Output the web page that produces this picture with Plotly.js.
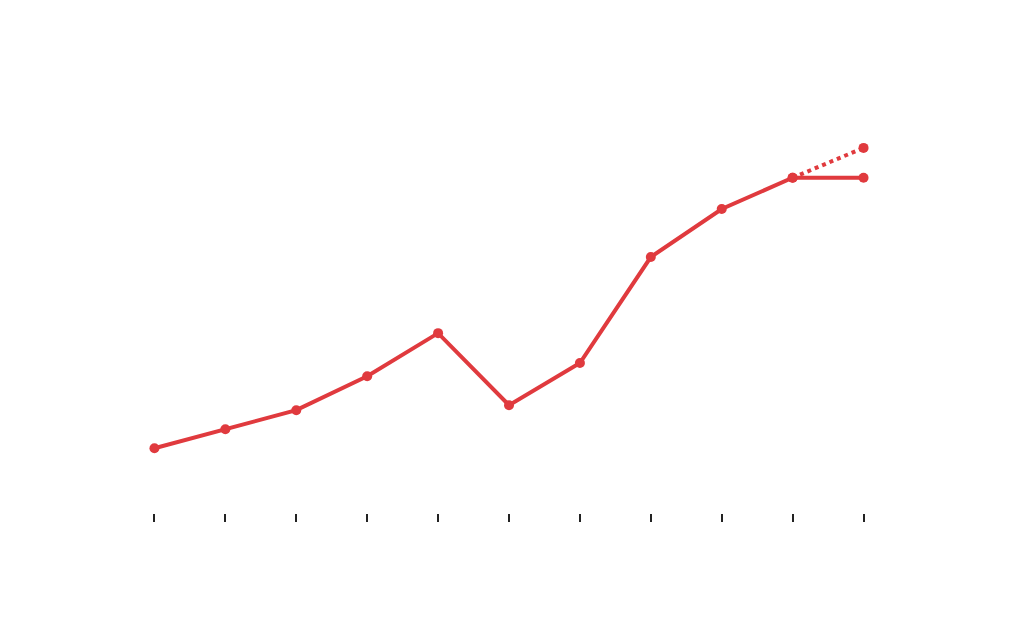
<!DOCTYPE html>
<html>
<head>
<meta charset="utf-8">
<script src="https://cdn.plot.ly/plotly-3.0.1.min.js"></script>
<style>html,body{margin:0;padding:0;background:#fff;}#chart{width:1024px;height:623px;}</style>
</head>
<body>
<div id="chart"></div>
<script>
const periods = [0, 1, 2, 3, 4, 5, 6, 7, 8, 9, 10];
const actualValues = [14.3, 18.5, 22.7, 30.2, 39.7, 23.8, 33.1, 56.5, 67.1, 74.0, 74.0];
const projectedPeriods = [9, 10];
const projectedValues = [74.0, 80.6];
const lineColor = '#e03a3e';

const traces = [
  {
    x: projectedPeriods, y: projectedValues, type: 'scatter', mode: 'lines+markers',
    line: {color: lineColor, width: 4, dash: 'dot'},
    marker: {color: lineColor, size: 10},
    hoverinfo: 'skip', showlegend: false
  },
  {
    x: periods, y: actualValues, type: 'scatter', mode: 'lines+markers',
    line: {color: lineColor, width: 4},
    marker: {color: lineColor, size: 10},
    showlegend: false
  }
];

const layout = {
  width: 1024, height: 623,
  margin: {l: 119, r: 125, t: 60, b: 110},
  paper_bgcolor: '#fff', plot_bgcolor: '#fff',
  xaxis: {
    range: [-0.5, 10.5], tickvals: periods, showticklabels: false,
    ticks: 'outside', ticklen: 8, tickwidth: 2, tickcolor: '#222',
    showgrid: false, zeroline: false, showline: false
  },
  yaxis: {
    range: [0, 100], visible: false, showgrid: false, zeroline: false
  },
  showlegend: false
};

Plotly.newPlot('chart', traces, layout, {displayModeBar: false, staticPlot: true});
</script>
</body>
</html>
